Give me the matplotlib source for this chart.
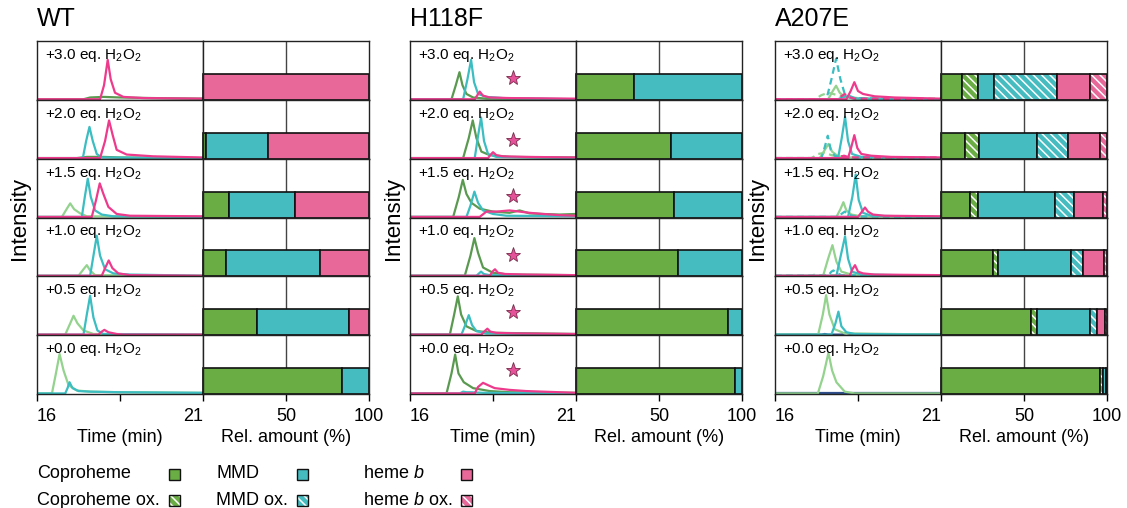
import sys  # Required for system functions

import matplotlib as mplib
mplib.use("Agg")
from matplotlib import pyplot as plt
from matplotlib.patches import Rectangle

plt.rcParams["font.family"] = ["Liberation Sans", "DejaVu Sans"]
plt.rcParams["mathtext.fontset"] = "custom"
plt.rcParams["mathtext.rm"] = "Liberation Sans"
plt.rcParams["mathtext.it"] = "Liberation Sans:italic"
plt.rcParams["mathtext.default"] = "regular"
plt.rcParams["hatch.linewidth"] = 1.1

# Titration steps, top row first
LEVELS = ["+3.0", "+2.0", "+1.5", "+1.0", "+0.5", "+0.0"]
PANELS = ["WT", "H118F", "A207E"]

# Relative amounts (%) per row: coproheme, coproheme ox., MMD, MMD ox., heme b, heme b ox.
WT_BARS = [
    [0, 0, 0, 0, 100, 0],
    [1.6, 0, 37.4, 0, 61.0, 0],
    [15.8, 0, 39.6, 0, 44.6, 0],
    [13.9, 0, 56.8, 0, 29.3, 0],
    [32.3, 0, 55.7, 0, 12.0, 0],
    [83.5, 0, 16.5, 0, 0, 0],
]
H118F_BARS = [
    [35.2, 0, 64.8, 0, 0, 0],
    [57.0, 0, 43.0, 0, 0, 0],
    [59.0, 0, 41.0, 0, 0, 0],
    [61.6, 0, 38.4, 0, 0, 0],
    [91.3, 0, 8.7, 0, 0, 0],
    [95.6, 0, 4.4, 0, 0, 0],
]
A207E_BARS = [
    [12.5, 9.5, 10.1, 37.6, 20.2, 10.1],
    [14.7, 8.3, 35.0, 18.6, 19.0, 4.4],
    [17.2, 5.0, 46.5, 11.7, 17.0, 2.6],
    [31.1, 3.2, 43.9, 7.5, 12.7, 1.6],
    [54.5, 3.1, 32.3, 4.0, 5.1, 1.0],
    [96.0, 1.4, 2.0, 0.6, 0, 0],
]

# Chromatogram traces: (trace kind, times in min, relative intensity)
WT_TRACES = [
    [("copd", [16, 17.4, 17.6, 18.0, 18.5, 19.5, 21], [0.01, 0.01, 0.04, 0.05, 0.04, 0.03, 0.02]),
     ("heme", [16, 17.9, 18.02, 18.13, 18.22, 18.35, 18.6, 19.2, 21], [0.01, 0.01, 0.25, 0.68, 0.35, 0.12, 0.05, 0.03, 0.02])],
    [("copd", [16, 17.2, 17.5, 18.0, 18.5, 21], [0.01, 0.01, 0.03, 0.03, 0.02, 0.01]),
     ("mmd", [16, 17.38, 17.48, 17.58, 17.68, 17.8, 17.95, 21], [0.01, 0.01, 0.3, 0.54, 0.3, 0.08, 0.02, 0.01]),
     ("heme", [16, 17.9, 18.05, 18.17, 18.28, 18.4, 18.7, 19.5, 21], [0.01, 0.01, 0.3, 0.65, 0.4, 0.15, 0.07, 0.04, 0.02])],
    [("cop", [16, 16.75, 16.9, 17.0, 17.12, 17.3, 17.5, 21], [0.01, 0.01, 0.15, 0.24, 0.14, 0.07, 0.02, 0.01]),
     ("mmd", [16, 17.35, 17.44, 17.53, 17.62, 17.75, 17.95, 18.3, 21], [0.01, 0.01, 0.35, 0.66, 0.35, 0.12, 0.05, 0.02, 0.01]),
     ("heme", [16, 17.65, 17.78, 17.89, 18.0, 18.15, 18.4, 18.8, 21], [0.01, 0.01, 0.3, 0.58, 0.4, 0.18, 0.06, 0.03, 0.02])],
    [("cop", [16, 17.25, 17.4, 17.5, 17.6, 17.75, 21], [0.01, 0.01, 0.12, 0.19, 0.1, 0.02, 0.01]),
     ("mmd", [16, 17.6, 17.7, 17.8, 17.9, 18.05, 18.3, 18.8, 21], [0.01, 0.01, 0.35, 0.69, 0.35, 0.12, 0.05, 0.03, 0.01]),
     ("heme", [16, 17.95, 18.06, 18.16, 18.27, 18.45, 18.8, 21], [0.01, 0.01, 0.15, 0.27, 0.14, 0.05, 0.02, 0.01])],
    [("cop", [16, 16.85, 17.0, 17.1, 17.22, 17.4, 17.7, 21], [0.01, 0.01, 0.2, 0.33, 0.2, 0.08, 0.02, 0.01]),
     ("mmd", [16, 17.4, 17.5, 17.6, 17.7, 17.82, 18.0, 21], [0.01, 0.01, 0.35, 0.67, 0.3, 0.08, 0.02, 0.01]),
     ("heme", [16, 17.85, 17.95, 18.03, 18.15, 18.4, 18.6, 21], [0.01, 0.01, 0.06, 0.09, 0.05, 0.02, 0.01, 0.01])],
    [("cop", [16, 16.45, 16.57, 16.68, 16.8, 16.95, 17.2, 17.6, 18.5, 21], [0.01, 0.01, 0.35, 0.68, 0.4, 0.15, 0.06, 0.04, 0.03, 0.02]),
     ("mmd", [16, 16.85, 16.92, 16.98, 17.07, 17.25, 17.6, 18.5, 21], [0.01, 0.01, 0.1, 0.2, 0.1, 0.05, 0.04, 0.03, 0.02])],
]
H118F_TRACES = [
    [("copd", [16, 17.25, 17.38, 17.49, 17.58, 17.7, 17.9, 18.3, 21], [0.01, 0.01, 0.25, 0.47, 0.25, 0.1, 0.04, 0.02, 0.01]),
     ("mmd", [16, 17.6, 17.73, 17.84, 17.93, 18.05, 18.3, 18.8, 21], [0.01, 0.01, 0.35, 0.68, 0.3, 0.1, 0.05, 0.03, 0.01]),
     ("heme", [16, 17.95, 18.03, 18.1, 18.2, 18.4, 19.0, 21], [0.01, 0.01, 0.08, 0.14, 0.07, 0.04, 0.03, 0.02])],
    [("copd", [16, 17.6, 17.77, 17.89, 18.0, 18.15, 18.4, 19.0, 21], [0.01, 0.01, 0.35, 0.65, 0.35, 0.12, 0.06, 0.03, 0.02]),
     ("mmd", [16, 17.95, 18.04, 18.14, 18.23, 18.35, 18.6, 21], [0.01, 0.01, 0.35, 0.70, 0.3, 0.08, 0.03, 0.01]),
     ("heme", [16, 18.35, 18.45, 18.5, 18.6, 18.8, 19.5, 21], [0.01, 0.01, 0.08, 0.11, 0.06, 0.04, 0.03, 0.02])],
    [("copd", [16, 17.3, 17.47, 17.59, 17.7, 17.85, 18.1, 18.5, 19.0, 19.3, 19.6, 20.0, 20.5, 21],
      [0.01, 0.01, 0.35, 0.64, 0.4, 0.25, 0.15, 0.1, 0.08, 0.12, 0.07, 0.06, 0.05, 0.06]),
     ("mmd", [16, 17.7, 17.82, 17.94, 18.05, 18.2, 18.5, 18.9, 21], [0.01, 0.01, 0.2, 0.44, 0.25, 0.12, 0.06, 0.03, 0.02]),
     ("heme", [16, 18.1, 18.3, 18.6, 19.0, 19.3, 19.6, 20.0, 20.5, 21], [0.01, 0.01, 0.1, 0.1, 0.12, 0.1, 0.08, 0.06, 0.04, 0.03])],
    [("copd", [16, 17.65, 17.82, 17.94, 18.05, 18.2, 18.5, 19.0, 21], [0.01, 0.01, 0.35, 0.65, 0.4, 0.15, 0.06, 0.03, 0.02]),
     ("mmd", [16, 18.0, 18.08, 18.14, 18.22, 18.4, 21], [0.01, 0.01, 0.05, 0.08, 0.04, 0.02, 0.01]),
     ("heme", [16, 18.4, 18.5, 18.56, 18.65, 18.85, 19.5, 21], [0.01, 0.01, 0.09, 0.12, 0.06, 0.04, 0.03, 0.02])],
    [("copd", [16, 17.2, 17.33, 17.44, 17.54, 17.7, 18.0, 18.5, 21], [0.01, 0.01, 0.35, 0.66, 0.35, 0.15, 0.07, 0.04, 0.02]),
     ("mmd", [16, 17.55, 17.67, 17.77, 17.87, 18.0, 18.3, 21], [0.01, 0.01, 0.18, 0.34, 0.17, 0.07, 0.03, 0.01]),
     ("heme", [16, 18.15, 18.25, 18.33, 18.42, 18.6, 19.2, 21], [0.01, 0.01, 0.07, 0.11, 0.06, 0.04, 0.03, 0.02])],
    [("copd", [16, 17.1, 17.25, 17.36, 17.46, 17.62, 17.9, 18.4, 19.0, 21], [0.01, 0.01, 0.35, 0.67, 0.35, 0.2, 0.1, 0.05, 0.03, 0.02]),
     ("mmd", [16, 17.5, 17.6, 17.7, 17.85, 18.2, 21], [0.01, 0.01, 0.04, 0.03, 0.03, 0.02, 0.01]),
     ("heme", [16, 17.95, 18.05, 18.2, 18.35, 18.55, 19.0, 19.5, 20.0, 21], [0.01, 0.01, 0.12, 0.19, 0.15, 0.1, 0.07, 0.05, 0.04, 0.02])],
]
A207E_TRACES = [
    [("cop_ox", [16, 17.2, 17.4, 17.6, 17.75, 18.0, 18.5, 21], [0.01, 0.01, 0.08, 0.12, 0.1, 0.06, 0.03, 0.02]),
     ("cop", [16, 17.6, 17.74, 17.84, 17.95, 18.1, 18.4, 21], [0.01, 0.01, 0.15, 0.24, 0.12, 0.05, 0.02, 0.01]),
     ("mmd_ox", [16, 17.55, 17.7, 17.84, 17.97, 18.1, 18.4, 21], [0.01, 0.01, 0.35, 0.70, 0.35, 0.1, 0.03, 0.01]),
     ("mmd", [16, 17.9, 18.05, 18.15, 18.3, 18.6, 21], [0.01, 0.01, 0.05, 0.06, 0.03, 0.02, 0.01]),
     ("heme_ox", [16, 17.9, 18.0, 18.1, 18.2, 18.4, 21], [0.01, 0.01, 0.06, 0.1, 0.05, 0.02, 0.01]),
     ("heme", [16, 18.15, 18.28, 18.39, 18.5, 18.65, 19.0, 19.6, 21], [0.01, 0.01, 0.15, 0.30, 0.15, 0.1, 0.06, 0.04, 0.02])],
    [("cop_ox", [16, 17.1, 17.3, 17.5, 17.7, 18.0, 21], [0.01, 0.01, 0.08, 0.1, 0.06, 0.02, 0.01]),
     ("cop", [16, 17.35, 17.5, 17.61, 17.72, 17.9, 18.2, 21], [0.01, 0.01, 0.15, 0.25, 0.12, 0.04, 0.02, 0.01]),
     ("mmd_ox", [16, 17.4, 17.5, 17.59, 17.68, 17.8, 18.0, 21], [0.01, 0.01, 0.2, 0.39, 0.15, 0.05, 0.02, 0.01]),
     ("mmd", [16, 17.9, 18.01, 18.11, 18.2, 18.32, 18.6, 21], [0.01, 0.01, 0.35, 0.71, 0.3, 0.08, 0.03, 0.01]),
     ("heme_ox", [16, 17.9, 18.0, 18.08, 18.2, 18.4, 21], [0.01, 0.01, 0.04, 0.05, 0.03, 0.02, 0.02]),
     ("heme", [16, 18.2, 18.3, 18.39, 18.48, 18.6, 18.9, 19.5, 21], [0.01, 0.01, 0.2, 0.40, 0.18, 0.08, 0.05, 0.03, 0.02])],
    [("cop", [16, 17.85, 17.97, 18.06, 18.15, 18.3, 18.6, 21], [0.01, 0.01, 0.14, 0.26, 0.12, 0.05, 0.02, 0.01]),
     ("mmd_ox", [16, 17.9, 18.0, 18.1, 18.2, 18.4, 21], [0.01, 0.01, 0.06, 0.1, 0.05, 0.02, 0.01]),
     ("mmd", [16, 18.2, 18.33, 18.43, 18.52, 18.65, 18.9, 21], [0.01, 0.01, 0.35, 0.73, 0.3, 0.08, 0.03, 0.01]),
     ("heme", [16, 18.5, 18.62, 18.71, 18.8, 18.95, 19.3, 21], [0.01, 0.01, 0.1, 0.17, 0.1, 0.05, 0.03, 0.02])],
    [("cop_ox", [16, 17.1, 17.2, 17.3, 17.4, 21], [0.01, 0.01, 0.03, 0.02, 0.02, 0.01]),
     ("cop", [16, 17.45, 17.6, 17.73, 17.85, 18.0, 18.3, 21], [0.01, 0.01, 0.3, 0.53, 0.25, 0.08, 0.03, 0.01]),
     ("mmd_ox", [16, 17.6, 17.7, 17.76, 17.85, 18.0, 21], [0.01, 0.01, 0.08, 0.1, 0.06, 0.02, 0.01]),
     ("mmd", [16, 17.85, 17.98, 18.11, 18.2, 18.32, 18.6, 21], [0.01, 0.01, 0.35, 0.68, 0.3, 0.08, 0.03, 0.01]),
     ("heme", [16, 18.25, 18.33, 18.41, 18.5, 18.65, 19.0, 21], [0.01, 0.01, 0.12, 0.19, 0.08, 0.05, 0.03, 0.02])],
    [("base", [16, 17.4, 17.5, 17.6, 18.0, 18.15, 18.25, 18.4, 21], [0.01, 0.01, 0.02, 0.01, 0.01, 0.04, 0.02, 0.01, 0.01]),
     ("cop", [16, 17.3, 17.44, 17.54, 17.64, 17.8, 18.1, 21], [0.01, 0.01, 0.35, 0.68, 0.35, 0.1, 0.03, 0.01]),
     ("mmd", [16, 17.7, 17.82, 17.91, 18.0, 18.15, 18.4, 21], [0.01, 0.01, 0.2, 0.40, 0.15, 0.05, 0.02, 0.01])],
    [("base", [16, 21], [0.01, 0.01]),
     ("cop", [16, 17.29, 17.45, 17.61, 17.72, 17.85, 18.1, 18.4, 21], [0.01, 0.01, 0.3, 0.70, 0.4, 0.2, 0.04, 0.01, 0.01])],
]

# Star marker heights (H118F only)
H118F_STARS = [0.37, 0.32, 0.37, 0.36, 0.40, 0.41]
STAR_TIME = 19.1

# Colours
BAR_COLORS = ["#6aad45", "#6aad45", "#45bcc0", "#45bcc0", "#e8689a", "#e8689a"]
BAR_HATCHED = [False, True, False, True, False, True]
LINE_STYLES = {
    "cop": ("#93d38e", "-"),
    "copd": ("#5a9a50", "-"),
    "cop_ox": ("#93d38e", (0, (3, 2))),
    "mmd": ("#3bbdc1", "-"),
    "mmd_ox": ("#3bbdc1", (0, (3, 2))),
    "heme": ("#ee3a8c", "-"),
    "heme_ox": ("#ee3a8c", (0, (3, 2))),
    "base": ("#2f4f8c", "-"),
}

W, H = 1127, 508  # Figure size in pixels
TOP, BOTTOM = 41, 394  # Panel top and bottom in pixels
PANEL_LEFTS = [37, 410, 775]  # Left edge of every chromatogram column
COL_W = 166  # Width of chromatogram and bar columns
HATCH = "\\\\\\\\"


def rect(x0, y0, x1, y1):
    # Pixel box -> figure fraction box
    return [x0 / W, 1 - y1 / H, (x1 - x0) / W, (y1 - y0) / H]


def style_spines(ax):
    for s in ax.spines.values():
        s.set_color("#222222")
        s.set_linewidth(1.0)


def draw_bar(ax, left, width, color, hatched):
    if hatched:
        ax.barh(0, width, left=left, height=0.44, align="edge", color=color,
                edgecolor="white", hatch=HATCH, linewidth=0, clip_on=False)
        ax.barh(0, width, left=left, height=0.44, align="edge", fill=False,
                edgecolor="#111111", linewidth=1.2, clip_on=False)
    else:
        ax.barh(0, width, left=left, height=0.44, align="edge", color=color,
                edgecolor="#111111", linewidth=1.2, clip_on=False)


def __main__():
    fig = plt.figure(figsize=(W / 100, H / 100), dpi=100)
    row_h = (BOTTOM - TOP) / 6

    all_traces = [WT_TRACES, H118F_TRACES, A207E_TRACES]
    all_bars = [WT_BARS, H118F_BARS, A207E_BARS]

    for p, name in enumerate(PANELS):
        L = PANEL_LEFTS[p]
        for i, level in enumerate(LEVELS):
            y0 = TOP + i * row_h
            y1 = y0 + row_h
            axc = fig.add_axes(rect(L, y0, L + COL_W, y1))
            axb = fig.add_axes(rect(L + COL_W, y0, L + 2 * COL_W, y1))

            # Chromatogram row
            for kind, t, v in all_traces[p][i]:
                color, ls = LINE_STYLES[kind]
                axc.plot(t, v, color=color, linestyle=ls, linewidth=1.6)
            if name == "H118F":
                axc.plot(STAR_TIME, H118F_STARS[i], marker="*", markersize=11,
                         markerfacecolor="#e5529a", markeredgecolor="#7a2a4a", markeredgewidth=0.6)
            axc.set_xlim(16, 21)
            axc.set_ylim(0, 1)
            axc.set_yticks([])
            axc.text(0.05, 0.9, level + " eq. H$_2$O$_2$", transform=axc.transAxes,
                     ha="left", va="top", fontsize=11)
            style_spines(axc)

            # Relative amount bar row
            left = 0
            for k, val in enumerate(all_bars[p][i]):
                if val > 0:
                    draw_bar(axb, left, val, BAR_COLORS[k], BAR_HATCHED[k])
                left += val
            axb.axvline(50, color="#444444", linewidth=1.0, zorder=0)
            axb.set_xlim(0, 100)
            axb.set_ylim(0, 1)
            axb.set_yticks([])
            style_spines(axb)

            if i == len(LEVELS) - 1:
                axc.set_xticks([16, 18.5, 21], ["16", "", "21"])
                axc.tick_params(axis="x", direction="out", length=5, width=1.0, pad=5, labelsize=13)
                ticks = axc.xaxis.get_major_ticks()
                ticks[0].label1.set_horizontalalignment("left")
                ticks[2].label1.set_horizontalalignment("right")
                axb.set_xticks([50, 100], ["50", "100"])
                axb.tick_params(axis="x", direction="out", length=5, width=1.0, pad=5, labelsize=13)
            else:
                axc.set_xticks([])
                axb.set_xticks([])

        # Panel title, y label and x labels
        fig.text(L / W, 1 - 19 / H, name, fontsize=18, ha="left", va="center")
        fig.text((L - 17) / W, 1 - 218 / H, "Intensity", fontsize=16, rotation=90,
                 ha="center", va="center")
        fig.text((L + COL_W / 2) / W, 1 - 437 / H, "Time (min)", fontsize=13,
                 ha="center", va="center")
        fig.text((L + 1.5 * COL_W) / W, 1 - 437 / H, "Rel. amount (%)", fontsize=13,
                 ha="center", va="center")

    # Legend at the bottom
    legend_names = ["Coproheme", "Coproheme ox.", "MMD", "MMD ox.", "heme $\\mathit{b}$", "heme $\\mathit{b}$ ox."]
    text_x = [37, 37, 216, 216, 363, 363]
    box_x = [169, 169, 297, 297, 461, 461]
    base_y = [478, 505, 478, 505, 478, 505]
    box_y = [469, 495, 469, 495, 469, 495]
    for k in range(6):
        fig.text(text_x[k] / W, 1 - base_y[k] / H, legend_names[k], fontsize=13,
                 ha="left", va="baseline")
        bx = rect(box_x[k], box_y[k], box_x[k] + 11, box_y[k] + 11)
        if BAR_HATCHED[k]:
            fig.add_artist(Rectangle((bx[0], bx[1]), bx[2], bx[3], transform=fig.transFigure,
                                     facecolor=BAR_COLORS[k], edgecolor="white", hatch=HATCH, linewidth=0))
            fig.add_artist(Rectangle((bx[0], bx[1]), bx[2], bx[3], transform=fig.transFigure,
                                     fill=False, edgecolor="#111111", linewidth=1.0))
        else:
            fig.add_artist(Rectangle((bx[0], bx[1]), bx[2], bx[3], transform=fig.transFigure,
                                     facecolor=BAR_COLORS[k], edgecolor="#111111", linewidth=1.0))

    fig.savefig("out.png", dpi=100)


if __name__ == "__main__":
    sys.exit(__main__())
